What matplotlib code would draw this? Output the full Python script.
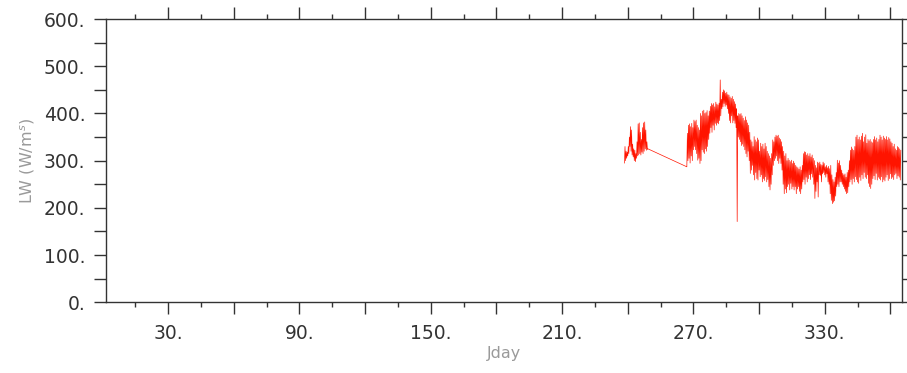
import matplotlib
matplotlib.use('Agg')
import matplotlib.pyplot as plt
from matplotlib.ticker import MultipleLocator, FuncFormatter

# half-day lows/highs
seg1_start = 238.5
seg1_hi = [330, 320, 318, 330, 350, 372, 365, 335, 325, 322, 315, 340, 378, 380, 360, 345, 370, 380, 382, 365, 340, 325]
seg1_lo = [295, 300, 305, 310, 315, 330, 320, 312, 308, 300, 298, 305, 310, 312, 315, 312, 318, 315, 320, 325, 322, 324]

seg2_start = 267.0
seg2_hi = [358, 375, 378, 372, 379, 370, 386, 383, 386, 375,
           370, 365, 400, 395, 405, 407, 400, 402, 406, 395,
           405, 415, 421, 418, 421, 414, 424, 420, 418, 422,
           471, 430, 445, 450, 448, 443, 445, 440, 439, 435,
           432, 436, 430, 425, 420, 410, 395, 400, 398, 400,
           395, 390, 385, 393, 386, 380, 375, 360, 344, 340,
           330, 351, 344, 340, 348, 344, 320, 337, 330, 335,
           325, 337, 330, 320, 315, 310, 305, 315, 344, 340,
           350, 354, 352, 354, 348, 345, 340, 330, 320, 310,
           315, 300, 305, 301, 298, 301, 294, 299, 295, 290,
           287, 285, 282, 287, 280, 290, 315, 319, 318, 312,
           315, 310, 315, 308, 312, 305, 300, 290, 285, 297,
           295, 297, 292, 290, 297, 294, 287, 290, 285, 288,
           283, 290, 270, 260, 255, 265, 275, 301, 295, 300,
           290, 280, 273, 270, 272, 265, 275, 280, 300, 322,
           329, 325, 322, 330, 350, 354, 345, 350, 344, 352,
           358, 340, 350, 355, 337, 345, 342, 345, 340, 338,
           345, 351, 344, 348, 340, 345, 354, 350, 344, 352,
           348, 345, 351, 344, 349, 346, 340, 337, 330, 335,
           325, 322, 330, 328, 325, 322]
seg2_lo = [287, 300, 305, 295, 310, 300, 323, 330, 323, 315,
           301, 305, 294, 300, 323, 318, 315, 325, 320, 330,
           345, 358, 370, 360, 375, 365, 379, 375, 380, 378,
           385, 395, 410, 414, 421, 415, 418, 410, 400, 385,
           380, 395, 380, 385, 379, 370, 171, 350, 345, 340,
           332, 335, 330, 323, 315, 308, 320, 300, 273, 280,
           290, 270, 259, 275, 262, 259, 280, 266, 270, 255,
           262, 258, 266, 255, 260, 245, 238, 250, 270, 290,
           300, 305, 310, 300, 294, 305, 294, 280, 250, 230,
           240, 232, 245, 250, 238, 252, 240, 245, 238, 245,
           230, 240, 245, 235, 230, 240, 255, 260, 250, 265,
           255, 262, 270, 260, 272, 265, 250, 220, 235, 255,
           223, 270, 269, 255, 272, 275, 270, 265, 272, 255,
           250, 230, 216, 209, 212, 215, 225, 245, 250, 245,
           255, 255, 250, 245, 240, 235, 230, 232, 245, 255,
           260, 250, 262, 255, 266, 260, 255, 252, 265, 258,
           270, 262, 275, 265, 262, 270, 252, 245, 241, 250,
           262, 268, 260, 273, 259, 265, 262, 259, 266, 255,
           260, 257, 265, 270, 258, 262, 272, 262, 265, 260,
           270, 273, 262, 268, 265, 259]


def zigzag(start, lo, hi):
    days = []
    vals = []
    for i in range(len(lo)):
        d = start + 0.5 * i
        days += [d, d + 0.25]
        vals += [lo[i], hi[i]]
    return days, vals


d1, v1 = zigzag(seg1_start, seg1_lo, seg1_hi)
d2, v2 = zigzag(seg2_start, seg2_lo, seg2_hi)
days = d1 + d2
lw = v1 + v2

fig = plt.figure(figsize=(9.07, 3.73), dpi=100)
ax = fig.add_axes([0.1165, 0.1895, 0.878, 0.7595])

ax.plot(days, lw, color='#ff1400', lw=0.5)

ax.set_xlim(1.5, 365.3)
ax.set_ylim(0, 600)

ax.xaxis.set_major_locator(MultipleLocator(30))
ax.xaxis.set_minor_locator(MultipleLocator(15))
ax.xaxis.set_major_formatter(FuncFormatter(lambda v, p: '%d.' % v if int(v) % 60 == 30 else ''))
ax.yaxis.set_major_locator(MultipleLocator(100))
ax.yaxis.set_minor_locator(MultipleLocator(50))
ax.yaxis.set_major_formatter(FuncFormatter(lambda v, p: '%d.' % v))

ax.tick_params(which='both', direction='out', top=True, right=True, color='#333333', width=1)
ax.tick_params(axis='x', which='major', length=8.5, pad=7, labelsize=13.5, labelcolor='#333333')
ax.tick_params(axis='x', which='minor', length=3.8)
ax.tick_params(axis='y', which='both', length=8.5, pad=6, labelsize=13.5, labelcolor='#333333')
for s in ax.spines.values():
    s.set_color('#333333')
    s.set_linewidth(1)

ax.set_xlabel('Jday', fontsize=11.5, color='#9a9a9a', labelpad=2)
ax.set_ylabel('LW (W/m$^s$)', fontsize=11.5, color='#9a9a9a', labelpad=5)

fig.savefig('out.png', dpi=100)
